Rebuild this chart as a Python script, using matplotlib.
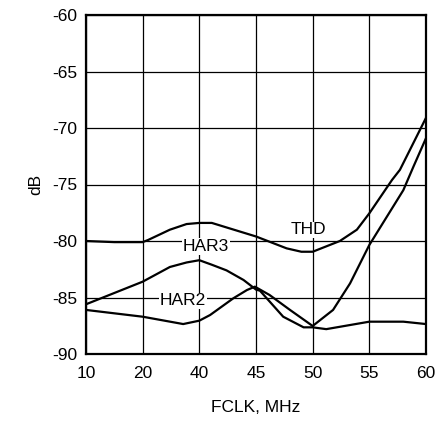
import numpy as np
import matplotlib
matplotlib.use("Agg")
import matplotlib.pyplot as plt

plt.rcParams['font.family'] = ['Liberation Sans', 'DejaVu Sans']

# Axis breakpoints (non-uniform frequency axis, equally spaced on the plot)
x_ticks = [10, 20, 40, 45, 50, 55, 60]
y_ticks = [-90, -85, -80, -75, -70, -65, -60]

# THD
thd_x = [10, 15, 20, 22, 29.6, 35.5, 40, 41.1, 45, 47.7, 49, 50, 52.4, 53.9, 55, 57, 57.7, 60]
thd_y = [-80.0, -80.1, -80.1, -79.9, -79.0, -78.5, -78.4, -78.4, -79.6, -80.65, -80.95, -80.95, -80.0, -79.0, -77.55, -74.6, -73.7, -69.1]

# HAR3
har3_x = [10, 20, 29.6, 35.5, 40, 41.1, 42.4, 43.9, 45, 45.35, 47.4, 49.2, 50, 51.2, 55, 58, 60]
har3_y = [-85.6, -83.6, -82.3, -81.9, -81.7, -82.1, -82.6, -83.45, -84.3, -84.4, -86.7, -87.64, -87.64, -87.8, -87.14, -87.14, -87.35]

# HAR2
har2_x = [10, 20, 34.3, 40, 40.95, 43, 44.2, 44.9, 46.2, 48, 50, 51.8, 53.3, 55, 58, 58.9, 60]
har2_y = [-86.1, -86.7, -87.35, -87.05, -86.55, -85.07, -84.34, -84.04, -84.78, -86.1, -87.52, -86.1, -83.75, -80.35, -75.5, -73.4, -70.9]

labels = {"THD": (49.6, -79.0), "HAR3": (40.6, -80.5), "HAR2": (34.3, -85.3)}

pos = np.arange(len(x_ticks), dtype=float)

def fwd(x):
    return np.interp(x, x_ticks, pos)

def inv(p):
    return np.interp(p, pos, x_ticks)

fig = plt.figure(figsize=(4.36, 4.22), dpi=100)
ax = fig.add_axes([86/436, 68/422, 340/436, 339/422])
ax.set_xscale('function', functions=(fwd, inv))

for xs, ys in [(thd_x, thd_y), (har3_x, har3_y), (har2_x, har2_y)]:
    ax.plot(xs, ys, color='black', lw=1.6, solid_joinstyle='round', zorder=3)

ax.set_xlim(10, 60)
ax.set_ylim(-90, -60)
ax.set_xticks(x_ticks)
ax.set_xticklabels([str(v) for v in x_ticks])
ax.set_yticks(y_ticks)
ax.set_yticklabels([str(v) for v in y_ticks])
ax.tick_params(axis='both', length=0, labelsize=12.5)
ax.tick_params(axis='x', pad=8.5)
ax.tick_params(axis='y', pad=6.5)
ax.grid(True, color='black', lw=0.9)
ax.set_axisbelow(True)
for s in ax.spines.values():
    s.set_linewidth(1.6)

for txt, (x, y) in labels.items():
    ax.text(x, y, txt, fontsize=12.5, ha='center', va='center', zorder=4,
            bbox=dict(facecolor='white', edgecolor='none', pad=0.5))

ax.set_xlabel('FCLK, MHz', fontsize=12.5, labelpad=14)
ax.set_ylabel('dB', fontsize=12.5, labelpad=6)

fig.savefig('out.png', dpi=100)
